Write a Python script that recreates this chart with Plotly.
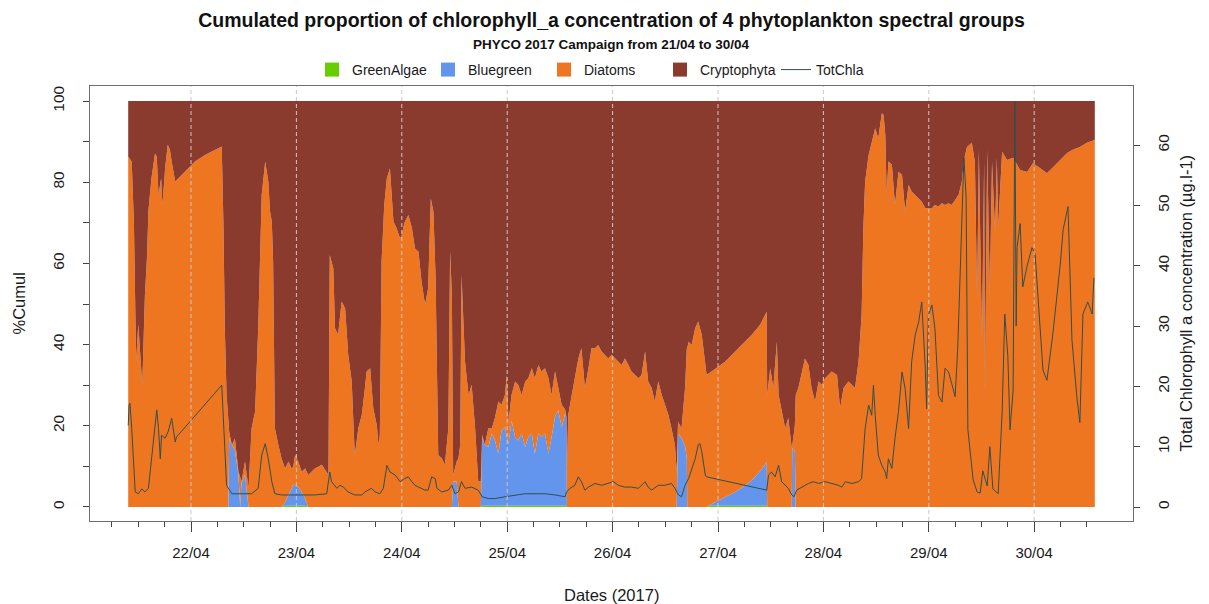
import pandas as pd
import plotly.graph_objects as go

START = pd.Timestamp("2017-04-21 00:00")

# Sampling times of the spectral-group proportions (hours after 21/04 00:00)
hours_area = [
    9.7, 10.5, 11.0, 11.5, 12.0, 12.4, 12.9, 13.5, 14.0, 14.3,
    15.0, 15.8, 16.2, 16.6, 17.2, 17.5, 18.1, 18.7, 19.2, 19.6,
    20.4, 22.6, 24.9, 27.2, 29.5, 31.0, 31.4, 31.7, 32.1, 32.5,
    32.7, 33.3, 34.0, 34.8, 35.2, 35.5, 36.3, 37.1, 37.8, 38.6,
    39.3, 40.1, 40.9, 41.6, 42.0, 42.4, 42.7, 43.1, 43.9, 44.6,
    45.4, 46.2, 46.9, 47.3, 47.7, 48.4, 49.2, 50.0, 50.7, 52.2,
    53.8, 54.9, 55.3, 55.6, 56.0, 56.4, 56.8, 57.5, 58.3, 59.1,
    59.8, 60.6, 61.0, 61.3, 62.1, 62.9, 63.6, 64.0, 64.8, 65.5,
    66.3, 66.7, 67.0, 67.4, 68.0, 68.6, 69.3, 69.7, 70.1, 70.8,
    71.6, 72.0, 72.6, 73.5, 74.3, 75.0, 75.8, 76.5, 77.3, 78.0,
    78.6, 79.2, 79.7, 80.3, 81.1, 81.8, 82.6, 83.0, 83.4, 83.7,
    84.5, 84.9, 85.3, 85.6, 86.0, 86.4, 87.2, 87.9, 88.7, 89.4,
    90.0, 90.3, 90.9, 91.7, 92.5, 93.2, 94.0, 94.7, 95.5, 95.9,
    96.3, 97.0, 97.8, 98.5, 99.3, 100.1, 100.8, 101.6, 102.3, 103.1,
    103.8, 104.6, 105.4, 106.1, 106.9, 107.6, 108.4, 109.2, 109.5, 109.6,
    109.9, 110.7, 111.4, 112.2, 112.9, 113.7, 114.5, 115.2, 116.0, 116.7,
    117.5, 118.3, 119.0, 119.8, 120.5, 121.3, 122.1, 122.8, 123.6, 124.3,
    125.1, 125.9, 126.6, 127.4, 128.1, 128.9, 129.6, 130.4, 131.2, 131.9,
    132.7, 133.4, 134.2, 134.6, 134.9, 135.7, 136.5, 136.9, 137.0, 137.3,
    138.0, 138.8, 139.5, 140.3, 141.1, 141.4, 141.8, 144.1, 145.6, 147.9,
    149.8, 151.7, 153.6, 155.1, 155.2, 155.9, 156.6, 157.4, 157.8, 158.5,
    159.3, 160.0, 160.8, 160.9, 161.5, 161.7, 162.3, 163.1, 163.8, 164.6,
    165.3, 166.1, 166.9, 167.6, 168.4, 169.9, 171.1, 171.8, 172.6, 173.7,
    175.2, 176.0, 176.4, 176.7, 177.1, 177.5, 178.3, 179.0, 179.8, 180.5,
    181.3, 181.7, 182.1, 182.4, 182.8, 183.6, 184.3, 185.1, 185.9, 186.6,
    187.4, 188.1, 188.9, 189.7, 190.4, 191.2, 191.9, 192.7, 193.4, 194.2,
    195.0, 195.7, 196.5, 197.2, 198.0, 198.8, 199.5, 200.1, 200.7, 201.8,
    202.5, 203.0, 203.4, 204.1, 204.6, 204.8, 205.3, 205.9, 206.4, 207.1,
    207.5, 207.8, 208.7, 209.8, 211.2, 212.8, 214.4, 215.7, 217.3, 218.9,
    220.3, 221.9, 223.5, 224.8, 226.4, 228.0, 229.4, 229.8,
]

# Proportion (%) of total chlorophyll a for each spectral group
green_algae = [
    0, 0, 0, 0, 0, 0, 0, 0, 0, 0,
    0, 0, 0, 0, 0, 0, 0, 0, 0, 0,
    0, 0, 0, 0, 0, 0, 0, 0, 0, 0,
    0, 0, 0, 0, 0, 0, 0, 0, 0, 0,
    0, 0, 0, 0, 0, 0, 0, 0, 0, 0,
    0.3, 0.3, 0.3, 0.3, 0.3, 0.3, 0.3, 0.3, 0, 0,
    0, 0, 0, 0, 0, 0, 0, 0, 0, 0,
    0, 0, 0, 0, 0, 0, 0, 0, 0, 0,
    0, 0, 0, 0, 0, 0, 0, 0, 0, 0,
    0, 0, 0, 0, 0, 0, 0, 0, 0, 0,
    0, 0, 0, 0, 0, 0, 0, 0, 0, 0,
    0, 0, 0, 0, 0, 0, 0, 0, 0, 0,
    0, 0.3, 0.3, 0.3, 0.3, 0.3, 0.3, 0.3, 0.3, 0.3,
    0.3, 0.3, 0.3, 0.3, 0.3, 0.3, 0.3, 0.3, 0.3, 0.3,
    0.3, 0.3, 0.3, 0.3, 0.3, 0.3, 0.3, 0.3, 0.3, 0,
    0, 0, 0, 0, 0, 0, 0, 0, 0, 0,
    0, 0, 0, 0, 0, 0, 0, 0, 0, 0,
    0, 0, 0, 0, 0, 0, 0, 0, 0, 0,
    0, 0, 0, 0, 0, 0, 0, 0, 0, 0,
    0, 0, 0, 0, 0, 0, 0.3, 0.3, 0.3, 0.3,
    0.3, 0.3, 0.3, 0.3, 0, 0, 0, 0, 0, 0,
    0, 0, 0, 0, 0, 0, 0, 0, 0, 0,
    0, 0, 0, 0, 0, 0, 0, 0, 0, 0,
    0, 0, 0, 0, 0, 0, 0, 0, 0, 0,
    0, 0, 0, 0, 0, 0, 0, 0, 0, 0,
    0, 0, 0, 0, 0, 0, 0, 0, 0, 0,
    0, 0, 0, 0, 0, 0, 0, 0, 0, 0,
    0, 0, 0, 0, 0, 0, 0, 0, 0, 0,
    0, 0, 0, 0, 0, 0, 0, 0, 0, 0,
    0, 0, 0, 0, 0, 0, 0, 0,
]

bluegreen = [
    0, 0, 0, 0, 0, 0, 0, 0, 0, 0,
    0, 0, 0, 0, 0, 0, 0, 0, 0, 0,
    0, 0, 0, 0, 0, 0, 0, 0, 0, 0,
    17.0, 15.3, 14.0, 8.0, 0, 6.0, 7.9, 0, 0, 0,
    0, 0, 0, 0, 0, 0, 0, 0, 0, 0,
    0.8, 2.5, 4.2, 5.4, 5.0, 4.6, 3.4, 1.7, 0, 0,
    0, 0, 0, 0, 0, 0, 0, 0, 0, 0,
    0, 0, 0, 0, 0, 0, 0, 0, 0, 0,
    0, 0, 0, 0, 0, 0, 0, 0, 0, 0,
    0, 0, 0, 0, 0, 0, 0, 0, 0, 0,
    0, 0, 0, 0, 0, 0, 0, 0, 0, 6.3,
    6.3, 0, 0, 0, 0, 0, 0, 0, 0, 0,
    0, 16.9, 15.0, 14.5, 17.8, 16.1, 12.8, 18.6, 19.4, 17.0,
    15.3, 21.0, 16.9, 16.1, 17.8, 14.5, 16.9, 17.8, 12.8, 17.8,
    16.9, 17.8, 12.8, 16.9, 21.9, 23.5, 19.4, 22.7, 21.7, 0,
    0, 0, 0, 0, 0, 0, 0, 0, 0, 0,
    0, 0, 0, 0, 0, 0, 0, 0, 0, 0,
    0, 0, 0, 0, 0, 0, 0, 0, 0, 0,
    0, 0, 0, 0, 18.0, 17.0, 15.0, 12.0, 0, 0,
    0, 0, 0, 0, 0, 0, 0, 1.3, 2.2, 3.4,
    4.7, 6.3, 8.5, 10.8, 0, 0, 0, 0, 0, 0,
    0, 0, 0, 14.5, 14.0, 0, 0, 0, 0, 0,
    0, 0, 0, 0, 0, 0, 0, 0, 0, 0,
    0, 0, 0, 0, 0, 0, 0, 0, 0, 0,
    0, 0, 0, 0, 0, 0, 0, 0, 0, 0,
    0, 0, 0, 0, 0, 0, 0, 0, 0, 0,
    0, 0, 0, 0, 0, 0, 0, 0, 0, 0,
    0, 0, 0, 0, 0, 0, 0, 0, 0, 0,
    0, 0, 0, 0, 0, 0, 0, 0, 0, 0,
    0, 0, 0, 0, 0, 0, 0, 0,
]

diatoms = [
    86.3, 85.1, 70.0, 36.0, 45.0, 38.0, 30.0, 52.0, 62.0, 73.0,
    81.0, 87.1, 86.3, 76.9, 81.0, 74.4, 83.4, 89.2, 88.0, 85.1,
    80.2, 82.6, 85.1, 86.7, 88.0, 88.8, 68.7, 44.0, 27.6, 19.4,
    1.5, 0.0, 2.9, 0.7, 7.5, 0.3, 3.3, 4.6, 19.4, 23.5,
    44.0, 76.9, 85.1, 80.2, 72.8, 70.3, 60.5, 19.4, 15.3, 12.0,
    8.4, 8.4, 5.0, 4.3, 7.5, 6.3, 5.0, 7.5, 7.9, 9.5,
    10.4, 8.7, 7.9, 62.1, 60.5, 58.8, 44.0, 42.4, 50.6, 48.9,
    37.5, 30.9, 20.2, 12.8, 19.4, 22.7, 29.3, 33.4, 34.2, 24.3,
    20.2, 15.3, 17.8, 60.5, 74.4, 81.0, 83.4, 76.9, 70.3, 68.7,
    66.2, 67.0, 70.0, 71.9, 68.7, 63.7, 62.9, 55.5, 49.8, 53.9,
    76.0, 72.8, 56.3, 12.8, 12.0, 10.4, 19.4, 63.0, 52.2, 1.6,
    4.9, 12.0, 15.3, 57.2, 47.3, 35.8, 27.6, 30.1, 19.4, 6.3,
    6.3, 0.6, 0.0, 4.6, 1.3, 5.5, 12.9, 6.3, 7.9, 15.2,
    5.4, 6.3, 13.7, 13.7, 9.5, 16.1, 14.5, 16.1, 18.6, 16.9,
    16.2, 16.1, 18.6, 10.4, 11.2, 5.5, 5.5, 1.0, 0.0, 8.7,
    22.7, 27.6, 31.7, 36.6, 39.1, 29.3, 34.2, 39.1, 39.1, 39.9,
    38.3, 37.5, 36.6, 37.5, 36.6, 35.8, 35.0, 36.6, 35.0, 33.4,
    32.5, 31.7, 32.5, 38.3, 30.9, 29.3, 26.0, 30.9, 27.6, 25.2,
    22.7, 19.4, 15.3, 8.7, 3.0, 2.4, 14.3, 27.1, 39.1, 40.7,
    39.9, 44.0, 45.7, 42.4, 35.8, 32.6, 32.5, 33.0, 33.3, 34.6,
    35.3, 35.8, 36.1, 37.0, 27.6, 34.2, 29.3, 40.7, 27.6, 23.5,
    19.4, 21.9, 14.5, 0.5, 6.0, 27.6, 29.3, 33.4, 36.6, 35.0,
    29.3, 26.0, 30.9, 30.1, 31.7, 33.4, 32.5, 24.3, 29.3, 30.9,
    29.3, 35.8, 42.4, 47.3, 68.7, 80.2, 86.7, 90.0, 93.3, 90.8,
    97.0, 96.6, 91.6, 76.9, 85.1, 84.3, 74.4, 82.6, 81.8, 72.8,
    79.3, 77.7, 76.9, 76.0, 75.2, 73.6, 73.6, 73.6, 74.4, 74.0,
    74.8, 74.4, 74.8, 74.4, 75.6, 77.0, 80.0, 86.0, 88.7, 89.7,
    85.0, 51.0, 88.0, 41.0, 85.0, 27.0, 88.0, 52.7, 85.0, 68.0,
    86.0, 69.0, 87.5, 85.5, 86.0, 83.0, 82.5, 84.7, 83.5, 82.2,
    83.7, 85.5, 87.2, 88.0, 88.7, 89.7, 90.4, 90.4,
]

cryptophyta = [
    13.7, 14.9, 30.0, 64.0, 55.0, 62.0, 70.0, 48.0, 38.0, 27.0,
    19.0, 12.9, 13.7, 23.1, 19.0, 25.6, 16.6, 10.8, 12.0, 14.9,
    19.8, 17.4, 14.9, 13.3, 12.0, 11.2, 31.3, 56.0, 72.4, 80.6,
    81.5, 84.7, 83.1, 91.3, 92.5, 93.7, 88.8, 95.4, 80.6, 76.5,
    56.0, 23.1, 14.9, 19.8, 27.2, 29.7, 39.5, 80.6, 84.7, 88.0,
    90.5, 88.8, 90.5, 90.0, 87.2, 88.8, 91.3, 90.5, 92.1, 90.5,
    89.6, 91.3, 92.1, 37.9, 39.5, 41.2, 56.0, 57.6, 49.4, 51.1,
    62.5, 69.1, 79.8, 87.2, 80.6, 77.3, 70.7, 66.6, 65.8, 75.7,
    79.8, 84.7, 82.2, 39.5, 25.6, 19.0, 16.6, 23.1, 29.7, 31.3,
    33.8, 33.0, 30.0, 28.1, 31.3, 36.3, 37.1, 44.5, 50.2, 46.1,
    24.0, 27.2, 43.7, 87.2, 88.0, 89.6, 80.6, 37.0, 47.8, 92.1,
    88.8, 88.0, 84.7, 42.8, 52.7, 64.2, 72.4, 69.9, 80.6, 93.7,
    93.7, 82.2, 84.7, 80.6, 80.6, 78.1, 74.0, 74.8, 72.4, 67.5,
    79.0, 72.4, 69.1, 69.9, 72.4, 69.1, 68.3, 65.8, 68.3, 65.0,
    66.6, 65.8, 68.3, 72.4, 66.6, 70.7, 74.8, 76.0, 78.0, 91.3,
    77.3, 72.4, 68.3, 63.4, 60.9, 70.7, 65.8, 60.9, 60.9, 60.1,
    61.7, 62.5, 63.4, 62.5, 63.4, 64.2, 65.0, 63.4, 65.0, 66.6,
    67.5, 68.3, 67.5, 61.7, 69.1, 70.7, 74.0, 69.1, 72.4, 74.8,
    77.3, 80.6, 84.7, 91.3, 79.0, 80.6, 70.7, 60.9, 60.9, 59.3,
    60.1, 56.0, 54.3, 57.6, 64.2, 67.4, 67.2, 65.4, 64.2, 61.7,
    59.7, 57.6, 55.1, 51.9, 72.4, 65.8, 70.7, 59.3, 72.4, 76.5,
    80.6, 78.1, 85.5, 85.0, 80.0, 72.4, 70.7, 66.6, 63.4, 65.0,
    70.7, 74.0, 69.1, 69.9, 68.3, 66.6, 67.5, 75.7, 70.7, 69.1,
    70.7, 64.2, 57.6, 52.7, 31.3, 19.8, 13.3, 10.0, 6.7, 9.2,
    3.0, 3.4, 8.4, 23.1, 14.9, 15.7, 25.6, 17.4, 18.2, 27.2,
    20.7, 22.3, 23.1, 24.0, 24.8, 26.4, 26.4, 26.4, 25.6, 26.0,
    25.2, 25.6, 25.2, 25.6, 24.4, 23.0, 20.0, 14.0, 11.3, 10.3,
    15.0, 49.0, 12.0, 59.0, 15.0, 73.0, 12.0, 47.3, 15.0, 32.0,
    14.0, 31.0, 12.5, 14.5, 14.0, 17.0, 17.5, 15.3, 16.5, 17.8,
    16.3, 14.5, 12.8, 12.0, 11.3, 10.3, 9.6, 9.6,
]

# Total chlorophyll a (µg/l) and its sampling times (hours after 21/04 00:00)
hours_chla = [
    9.7, 9.9, 10.1, 10.5, 11.3, 12.0, 12.8, 13.5, 14.3, 14.7,
    15.4, 16.2, 16.6, 17.0, 17.3, 18.1, 18.8, 19.6, 20.4, 20.7,
    31.0, 31.4, 32.1, 33.3, 34.8, 36.3, 37.8, 39.3, 40.1, 40.9,
    41.6, 42.4, 43.1, 44.6, 48.4, 52.2, 54.9, 55.6, 56.0, 57.2,
    57.9, 58.7, 59.8, 61.3, 62.9, 63.6, 65.1, 65.9, 67.0, 67.8,
    68.6, 69.3, 70.5, 71.6, 72.6, 73.5, 74.3, 75.0, 75.8, 76.5,
    77.3, 78.0, 78.8, 79.6, 80.0, 81.1, 82.6, 83.4, 84.1, 84.9,
    85.6, 86.4, 87.9, 89.4, 90.3, 91.7, 93.2, 95.5, 97.8, 100.1,
    103.1, 104.6, 106.9, 109.2, 109.5, 110.3, 111.4, 112.2, 112.9, 113.7,
    114.5, 116.0, 117.5, 119.0, 120.2, 121.3, 122.8, 124.3, 125.9, 127.4,
    128.1, 128.9, 130.4, 131.9, 133.4, 134.2, 135.0, 135.7, 136.5, 137.3,
    138.0, 138.8, 139.5, 139.9, 140.3, 141.1, 141.4, 155.1, 155.5, 156.2,
    157.0, 157.8, 158.5, 159.3, 160.0, 160.8, 161.3, 161.9, 163.1, 164.6,
    165.7, 166.9, 168.4, 169.9, 171.4, 172.2, 173.0, 174.5, 176.0, 176.7,
    177.5, 178.3, 179.0, 179.4, 179.8, 180.5, 181.3, 182.1, 182.4, 182.8,
    183.6, 184.3, 185.1, 185.9, 186.6, 187.4, 188.1, 188.9, 189.7, 190.4,
    191.2, 191.5, 191.9, 192.7, 193.4, 194.2, 195.0, 195.7, 196.5, 197.2,
    198.0, 198.6, 199.6, 200.0, 200.5, 200.9, 202.1, 203.0, 203.7, 204.3,
    205.3, 205.9, 206.6, 207.8, 208.7, 209.3, 210.0, 210.5, 211.2, 211.6,
    211.9, 212.1, 212.8, 213.4, 214.4, 215.5, 216.2, 216.9, 218.0, 218.9,
    220.3, 221.9, 222.6, 223.7, 224.1, 224.6, 225.7, 226.4, 227.1, 228.2,
    229.2, 229.6,
]

tot_chla = [
    13.5, 16.9, 17.2, 13.0, 2.5, 2.2, 3.0, 2.5, 3.1, 5.8,
    9.7, 16.1, 13.0, 8.0, 11.9, 11.4, 12.5, 14.7, 10.8, 11.6,
    20.2, 13.6, 3.6, 2.2, 2.2, 2.2, 2.2, 3.1, 8.6, 10.5,
    8.0, 4.2, 2.2, 2.0, 2.0, 2.0, 2.2, 5.8, 4.2, 3.1,
    3.6, 3.3, 2.5, 2.0, 2.0, 2.5, 3.1, 2.5, 2.2, 3.1,
    6.9, 5.8, 5.3, 4.2, 4.7, 5.0, 4.2, 3.6, 3.3, 3.1,
    2.8, 2.8, 5.0, 4.7, 3.1, 2.5, 2.8, 3.6, 2.2, 2.5,
    4.2, 3.1, 3.3, 2.8, 1.7, 1.4, 1.4, 1.7, 2.0, 2.2,
    2.2, 2.2, 2.0, 1.7, 2.5, 3.1, 3.6, 5.0, 4.2, 2.8,
    3.3, 3.9, 3.6, 3.9, 4.2, 3.6, 3.3, 3.3, 3.1, 4.2,
    3.3, 2.8, 3.6, 3.6, 3.9, 3.1, 2.0, 1.7, 3.6, 4.7,
    6.4, 8.0, 10.3, 10.5, 9.2, 5.3, 5.0, 2.8, 5.3, 5.8,
    5.0, 6.9, 4.2, 3.6, 3.1, 2.0, 1.7, 2.8, 3.3, 3.9,
    4.2, 3.9, 4.2, 3.9, 3.6, 3.3, 4.2, 3.9, 4.2, 4.7,
    13.0, 16.9, 15.2, 20.2, 15.2, 8.6, 6.9, 5.8, 4.7, 8.0,
    6.4, 11.4, 15.8, 22.4, 19.7, 13.0, 24.1, 28.5, 30.7, 34.0,
    23.0, 16.3, 31.8, 33.5, 29.6, 18.5, 17.4, 23.0, 22.4, 20.5,
    18.3, 26.5, 48.8, 58.0, 51.4, 12.8, 4.5, 2.5, 2.3, 6.0,
    3.5, 10.0, 3.0, 2.2, 15.6, 32.0, 25.0, 12.8, 19.4, 67.2,
    30.0, 43.0, 47.0, 36.5, 40.0, 43.0, 42.0, 35.0, 22.7, 21.0,
    29.0, 40.0, 46.0, 49.8, 40.0, 27.7, 18.3, 14.0, 32.0, 34.0,
    32.0, 38.0,
]

day_ticks = ["2017-04-22", "2017-04-23", "2017-04-24", "2017-04-25", "2017-04-26",
             "2017-04-27", "2017-04-28", "2017-04-29", "2017-04-30"]
day_labels = ["22/04", "23/04", "24/04", "25/04", "26/04", "27/04", "28/04", "29/04", "30/04"]
pct_ticks = [0, 10, 20, 30, 40, 50, 60, 70, 80, 90, 100]
pct_labels = ["0", "", "20", "", "40", "", "60", "", "80", "", "100"]
chla_ticks = [0, 10, 20, 30, 40, 50, 60]

group_names = ["GreenAlgae", "Bluegreen", "Diatoms", "Cryptophyta"]
group_colors = ["#66CD00", "#6495ED", "#EE7621", "#8B3A2E"]
group_values = [green_algae, bluegreen, diatoms, cryptophyta]

for vals in group_values:
    assert len(vals) == len(hours_area), len(vals)
assert len(hours_chla) == len(tot_chla), (len(hours_chla), len(tot_chla))

t_area = [START + pd.Timedelta(hours=h) for h in hours_area]
t_chla = [START + pd.Timedelta(hours=h) for h in hours_chla]

FONT = "Liberation Sans, Arial, sans-serif"
TXT = "#1a1a1a"
BOX = "#6e6e6e"

fig = go.Figure()

# stacked proportions (cumulated to 100 %)
for i, (name, col, vals) in enumerate(zip(group_names, group_colors, group_values)):
    fig.add_trace(go.Scatter(
        x=t_area, y=vals, name=name, mode="lines",
        stackgroup="cum", groupnorm="percent" if i == 0 else None,
        line=dict(width=0, color=col), fillcolor=col,
        showlegend=False, hoverinfo="skip",
    ))

# legend keys for the groups
for name, col in zip(group_names, group_colors):
    fig.add_trace(go.Scatter(
        x=[None], y=[None], mode="markers", name=name,
        marker=dict(symbol="square", size=14, color=col, line=dict(width=0)),
    ))

# total chlorophyll a on the right-hand axis
fig.add_trace(go.Scatter(
    x=t_chla, y=tot_chla, yaxis="y2", mode="lines", name="TotChla",
    line=dict(color="#2F4F4F", width=1),
))

# dashed day separators
shapes = [dict(type="line", xref="x", yref="paper", x0=d, x1=d, y0=0, y1=1,
               line=dict(color="#c9c9c9", width=1, dash="4px,3px"), layer="above")
          for d in day_ticks]

minor_ticks = pd.date_range("2017-04-21 06:00", "2017-04-30 12:00", freq="6h")

fig.update_layout(
    width=1209, height=604,
    margin=dict(l=90, r=76, t=86, b=83),
    paper_bgcolor="white", plot_bgcolor="white",
    font=dict(family=FONT, size=15, color=TXT),
    title=dict(
        text="<b>Cumulated proportion of chlorophyll_a concentration of 4 phytoplankton spectral groups</b>",
        x=0.5, xref="paper", xanchor="center",
        y=1 - 20 / 604, yref="container", yanchor="middle",
        font=dict(family=FONT, size=19.5, color="#111"),
    ),
    legend=dict(
        orientation="h", traceorder="normal",
        x=(312 - 90) / 1043, xanchor="left", xref="paper",
        y=1.0368, yanchor="middle", yref="paper",
        font=dict(family=FONT, size=14, color=TXT),
        bgcolor="rgba(0,0,0,0)", itemwidth=30,
        entrywidth=71, entrywidthmode="pixels",
    ),
    xaxis=dict(
        type="date",
        range=[START + pd.Timedelta(hours=1.0), START + pd.Timedelta(hours=238.5)],
        tickmode="array", tickvals=day_ticks, ticktext=day_labels,
        ticks="outside", ticklen=10, tickwidth=1, tickcolor="#444",
        showline=True, linecolor=BOX, linewidth=1.2, mirror=True,
        showgrid=False, zeroline=False,
        tickfont=dict(size=15, color=TXT),
        ticklabelstandoff=8,
        minor=dict(tickmode="array", tickvals=list(minor_ticks), ticks="outside",
                   ticklen=5, tickwidth=1, tickcolor="#444", showgrid=False),
    ),
    yaxis=dict(
        range=[-3.45, 103.7],
        tickmode="array", tickvals=pct_ticks, ticktext=pct_labels,
        tickangle=-90, ticks="outside", ticklen=6, tickwidth=1, tickcolor="#444",
        showline=True, linecolor=BOX, linewidth=1.2, mirror=True,
        showgrid=False, zeroline=False,
        tickfont=dict(size=15.5, color=TXT),
        ticklabelstandoff=13,
    ),
    yaxis2=dict(
        overlaying="y", side="right", range=[-2.32, 69.8],
        tickmode="array", tickvals=chla_ticks,
        tickangle=-90, ticks="outside", ticklen=6, tickwidth=1, tickcolor="#444",
        showline=False, showgrid=False, zeroline=False,
        tickfont=dict(size=15.5, color=TXT),
        ticklabelstandoff=10,
    ),
    shapes=shapes,
    annotations=[
        dict(text="<b>PHYCO 2017 Campaign from 21/04 to 30/04</b>", xref="paper", yref="paper",
             x=0.5, y=1 + (86 - 44) / 435, xanchor="center", yanchor="middle", showarrow=False,
             font=dict(family=FONT, size=13.5, color="#111")),
        dict(text="Dates (2017)", xref="paper", yref="paper",
             x=0.5, y=(521 - 595) / 435, xanchor="center", yanchor="middle", showarrow=False,
             font=dict(family=FONT, size=16.5, color=TXT)),
        dict(text="%Cumul", xref="paper", yref="paper", textangle=-90,
             x=(18 - 90) / 1043, y=0.5, xanchor="center", yanchor="middle", showarrow=False,
             font=dict(family=FONT, size=16.5, color=TXT)),
        dict(text="Total Chlorophyll a concentration (µg.l-1)", xref="paper", yref="paper",
             textangle=-90, x=(1185 - 90) / 1043, y=0.5,
             xanchor="center", yanchor="middle", showarrow=False,
             font=dict(family=FONT, size=16.5, color=TXT)),
    ],
)

fig.write_html("out.html")
